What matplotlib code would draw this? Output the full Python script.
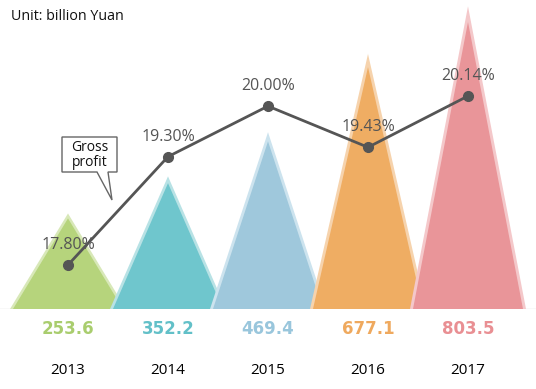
import numpy as np
import matplotlib.pyplot as plt
from matplotlib.patches import Polygon

years = ["2013", "2014", "2015", "2016", "2017"]
revenue = [253.6, 352.2, 469.4, 677.1, 803.5]
margin = [17.80, 19.30, 20.00, 19.43, 20.14]
fill_colors = ["#b6d47c", "#6fc6cd", "#9fc8dc", "#efad63", "#e99599"]
edge_colors = ["#d8e8b8", "#b8e2e5", "#cce3ee", "#f6d3ad", "#f4c8ca"]
label_colors = ["#a9cd6e", "#62c0c8", "#99c6dc", "#efa95e", "#e98f93"]

W, H = 536, 389
fig = plt.figure(figsize=(W / 100, H / 100), dpi=100)
ax = fig.add_axes([0, 80 / H, 1, 309 / H])
ax.set_xlim(-0.68, 4.68)
ax.set_ylim(0, 865)
ax.axis("off")

hw = 0.55   # half width of a triangle
d = 0.03    # width of the light border
x = np.arange(len(years))
for i, v in enumerate(revenue):
    outer = Polygon([(i - hw - d, 0), (i, v * (1 + d / hw)), (i + hw + d, 0)],
                    closed=True, facecolor=edge_colors[i], edgecolor="none", zorder=2 + i)
    inner = Polygon([(i - hw, 0), (i, v), (i + hw, 0)],
                    closed=True, facecolor=fill_colors[i], edgecolor="none", zorder=2 + i)
    ax.add_patch(outer)
    ax.add_patch(inner)
    ax.annotate(f"{v:.1f}", xy=(i, 0), xytext=(0, -14.5), textcoords="offset points",
                ha="center", va="center", fontsize=12, fontweight="bold",
                color=label_colors[i], family="DejaVu Sans")
    ax.annotate(years[i], xy=(i, 0), xytext=(0, -44), textcoords="offset points",
                ha="center", va="center", fontsize=11, color="#000000",
                family="Open Sans", annotation_clip=False)

ax.axhline(0, color="#dddddd", lw=1, zorder=1)

ax2 = ax.twinx()
ax2.set_position(ax.get_position())
ax2.set_ylim(17.19, 21.47)
ax2.axis("off")
ax2.plot(x, margin, color="#555555", lw=2, marker="o", markersize=7, zorder=10)
for i, m in enumerate(margin):
    ax2.annotate(f"{m:.2f}%", xy=(i, m), xytext=(0, 14.5), textcoords="offset points",
                 ha="center", va="center", fontsize=11.5, color="#555555",
                 family="Open Sans")

# callout bubble
def px(a, b):
    return (a / W, 1 - b / H)

bubble = Polygon([px(62, 137), px(117, 137), px(117, 172), px(108, 172), px(112, 200),
                  px(97, 172), px(62, 172)], closed=True, transform=fig.transFigure,
                 facecolor="white", edgecolor="#666666", lw=1, zorder=20)
fig.patches.append(bubble)
fig.text(*px(89.5, 155), "Gross\nprofit", ha="center", va="center", fontsize=10,
         color="#111111", family="Open Sans", linespacing=1.05, zorder=21)

fig.text(*px(11, 17), "Unit: billion Yuan", ha="left", va="center", fontsize=10.3,
         color="#111111", family="Open Sans")

fig.savefig("out.png", dpi=100)
